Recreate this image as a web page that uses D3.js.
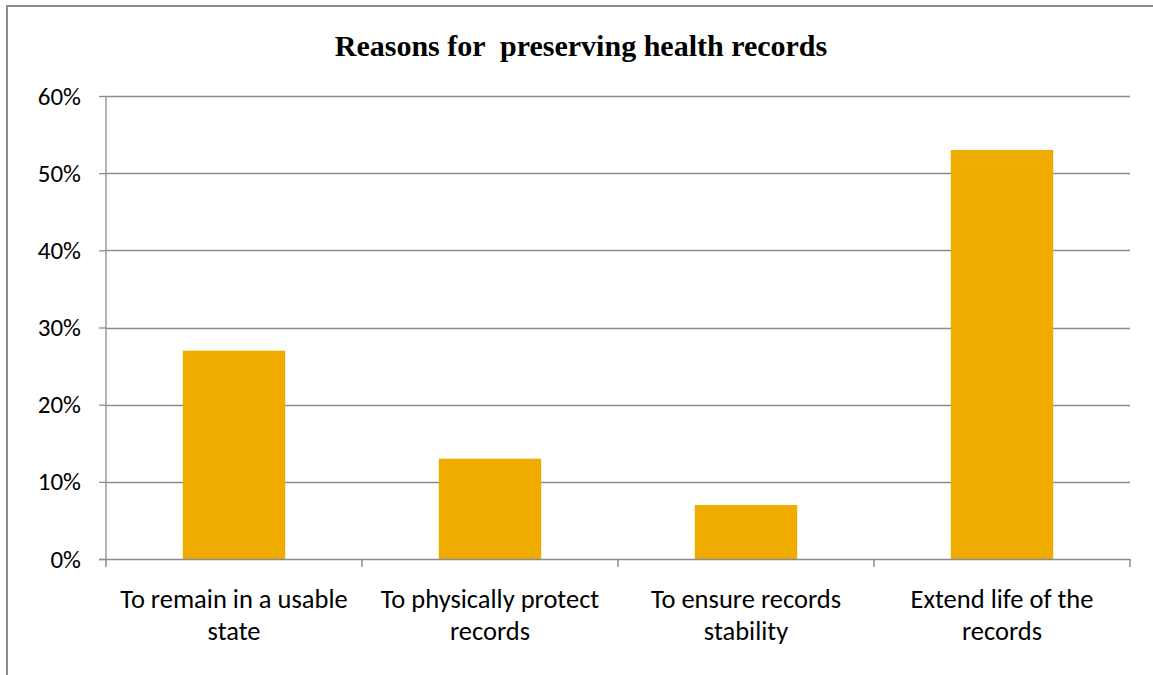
<!DOCTYPE html>
<html>
<head>
<meta charset="utf-8">
<script src="https://cdn.jsdelivr.net/npm/d3@7"></script>
<style>
  html, body { margin: 0; padding: 0; background: #fff; }
  svg { display: block; }
</style>
</head>
<body>
<svg id="chart" width="1153" height="675"></svg>
<script>
const title = "Reasons for  preserving health records";
const categories = [
  "To remain in a usable state",
  "To physically protect records",
  "To ensure records stability",
  "Extend life of the records"
];
const values = [0.27, 0.13, 0.07, 0.53];
const yTicks = [0, 0.1, 0.2, 0.3, 0.4, 0.5, 0.6];

const svg = d3.select("#chart");
const W = 1153, H = 675;
const m = { left: 106, right: 23, top: 96, bottom: 116 };
const pw = W - m.left - m.right, ph = H - m.top - m.bottom;

const labelFont = "Carlito, Lato, 'Open Sans', sans-serif";

// outer frame (top and left edges visible)
svg.append("path")
  .attr("d", `M7,${H} L7,6 L${W},6`)
  .attr("fill", "none").attr("stroke", "#8c8c8c").attr("stroke-width", 2);

svg.append("text")
  .attr("x", 581).attr("y", 56)
  .attr("text-anchor", "middle")
  .attr("font-family", "'Liberation Serif', 'Times New Roman', serif")
  .attr("font-weight", "bold").attr("font-size", 30)
  .style("white-space", "pre")
  .text(title);

const g = svg.append("g").attr("transform", `translate(${m.left},${m.top})`);

const x = d3.scaleBand().domain(categories).range([0, pw]).paddingInner(0.6).paddingOuter(0.3);
const xb = d3.scaleBand().domain(categories).range([0, pw]);
const y = d3.scaleLinear().domain([0, 0.6]).range([ph, 0]);

// gridlines
g.append("g").selectAll("line").data(yTicks.slice(1)).join("line")
  .attr("x1", 0).attr("x2", pw)
  .attr("y1", d => Math.round(y(d)) + 0.5).attr("y2", d => Math.round(y(d)) + 0.5)
  .attr("stroke", "#8c8c8c").attr("stroke-width", 1.3);

// bars
g.append("g").selectAll("rect").data(values).join("rect")
  .attr("x", (d, i) => xb(categories[i]) + xb.bandwidth() / 2 - x.bandwidth() / 2)
  .attr("width", x.bandwidth())
  .attr("y", d => y(d)).attr("height", d => ph - y(d))
  .attr("fill", "#f0ab00");

// y axis
const yAxis = g.append("g")
  .call(d3.axisLeft(y).tickValues(yTicks).tickFormat(d3.format(".0%")).tickSize(7).tickPadding(18));
yAxis.select(".domain").attr("stroke", "#8c8c8c").attr("stroke-width", 1.3).attr("d", `M0,0V${ph}`);
yAxis.selectAll(".tick line").attr("stroke", "#8c8c8c").attr("stroke-width", 1.3);
yAxis.selectAll(".tick text").attr("font-family", labelFont).attr("font-size", 25).attr("fill", "#000");

// x axis
const xAxisG = g.append("g").attr("transform", `translate(0,${ph})`);
xAxisG.append("line").attr("x1", -7).attr("x2", pw).attr("y1", 0.5).attr("y2", 0.5)
  .attr("stroke", "#8c8c8c").attr("stroke-width", 1.5);
const bounds = categories.map(c => xb(c)).concat([pw]);
xAxisG.selectAll("line.tk").data(bounds).join("line").attr("class", "tk")
  .attr("x1", d => d).attr("x2", d => d).attr("y1", 0).attr("y2", 8)
  .attr("stroke", "#8c8c8c").attr("stroke-width", 1.5);

// category labels with wrapping
function wrap(textSel, width) {
  textSel.each(function() {
    const t = d3.select(this);
    const words = t.text().split(/\s+/);
    const cx = t.attr("x");
    t.text(null);
    let line = [];
    let tspan = t.append("tspan").attr("x", cx).attr("dy", 0);
    for (const w of words) {
      line.push(w);
      tspan.text(line.join(" "));
      if (tspan.node().getComputedTextLength() > width && line.length > 1) {
        line.pop();
        tspan.text(line.join(" "));
        line = [w];
        tspan = t.append("tspan").attr("x", cx).attr("dy", 32).text(w);
      }
    }
  });
}
xAxisG.selectAll("text.cat").data(categories).join("text").attr("class", "cat")
  .attr("x", d => xb(d) + xb.bandwidth() / 2)
  .attr("y", 49)
  .attr("text-anchor", "middle")
  .attr("font-family", labelFont).attr("font-size", 26.5).attr("fill", "#000")
  .text(d => d)
  .call(wrap, 250);
</script>
</body>
</html>
